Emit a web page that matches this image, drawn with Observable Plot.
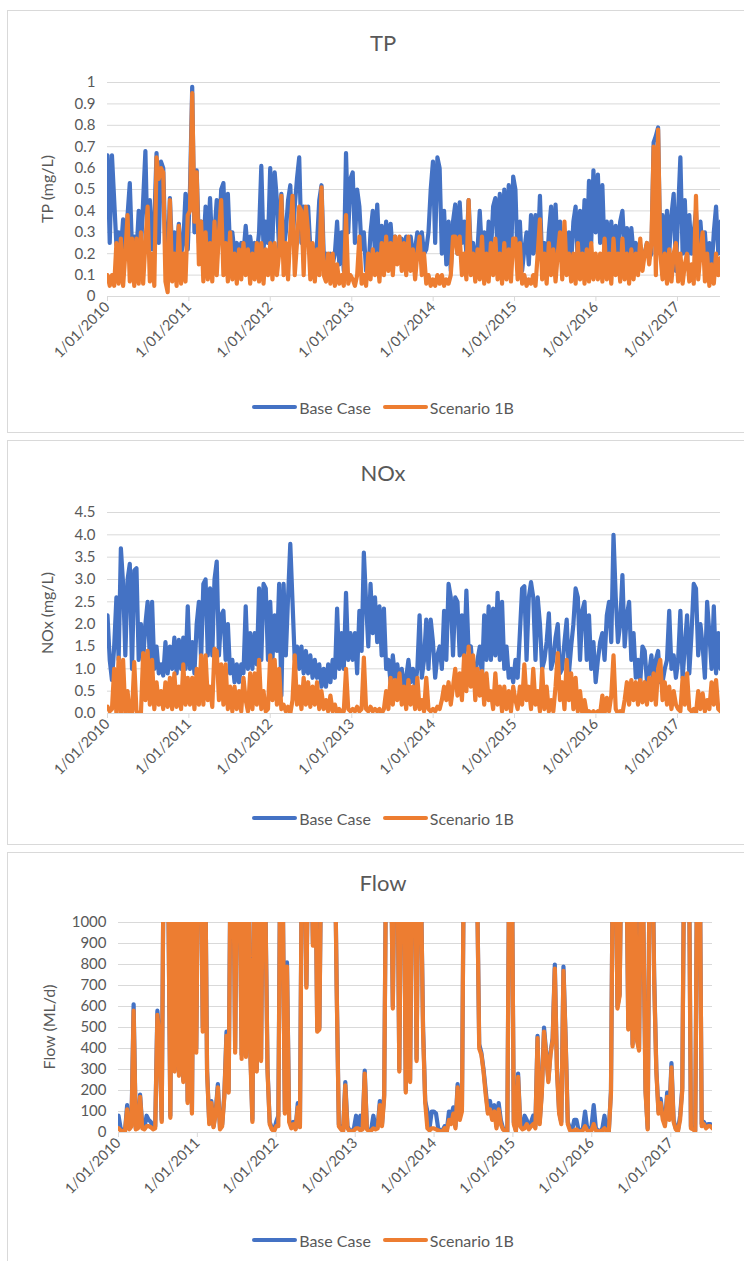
<!DOCTYPE html>
<html>
<head>
<meta charset="utf-8">
<script src="https://cdn.jsdelivr.net/npm/d3@7"></script>
<script src="https://cdn.jsdelivr.net/npm/@observablehq/plot@0.6"></script>
<style>
  html, body { margin: 0; padding: 0; background: #fff; overflow: hidden; }
  #root { position: relative; width: 744px; height: 1261px; overflow: hidden; font-family: Lato, "Open Sans", sans-serif; color: #595959; }
  .panel { position: absolute; border: 1px solid #d9d9d9; box-sizing: border-box; background: #fff; }
  .title { position: absolute; left: 0; width: 766px; text-align: center; font-size: 22px; line-height: 24px; color: #595959; }
  .ylab { position: absolute; font-size: 16px; white-space: nowrap; transform: translate(-50%, -50%) rotate(-90deg); color: #595959; }
  .legend { position: absolute; left: 0; width: 766px; display: flex; justify-content: center; align-items: center; font-size: 16px; color: #595959; }
  .sw { display: inline-block; width: 45px; height: 4px; border-radius: 2px; margin-right: 2px; }
  .item { display: flex; align-items: center; margin: 0 6px; }
  .chart { position: absolute; left: 0; }
</style>
</head>
<body>
<div id="root"></div>
<script>
// ---- data: one value every 10 days from 1 Jan 2010 ----
const stepDays = 10;
const startDate = new Date(2010, 0, 1);
const endDate = new Date(2017, 6, 13);
const tickYears = [2010, 2011, 2012, 2013, 2014, 2015, 2016, 2017];
const seriesNames = ["Base Case", "Scenario 1B"];
const seriesColors = ["#4472C4", "#ED7D31"];

const tpTicks = [0, 0.1, 0.2, 0.3, 0.4, 0.5, 0.6, 0.7, 0.8, 0.9, 1];
const noxTicks = [0, 0.5, 1, 1.5, 2, 2.5, 3, 3.5, 4, 4.5];
const flowTicks = [0, 100, 200, 300, 400, 500, 600, 700, 800, 900, 1000];

const tpBase = [
  0.66,0.25,0.66,0.45,0.24,0.3,0.22,0.36,0.2,0.38,0.53,0.22,0.28,0.2,0.4,0.22,0.45,0.68,0.22,0.45,0.22,0.35,0.67,0.25,0.63,0.6,0.22,0.2,0.46,0.2,0.3,0.2,0.34,0.2,0.25,0.48,0.22,
  0.5,0.98,0.3,0.59,0.25,0.35,0.22,0.42,0.25,0.46,0.22,0.3,0.45,0.25,0.5,0.53,0.25,0.48,0.22,0.3,0.2,0.25,0.2,0.25,0.2,0.33,0.2,0.28,0.2,0.25,0.2,0.3,0.61,0.22,0.35,0.25,
  0.6,0.25,0.58,0.45,0.22,0.48,0.22,0.3,0.45,0.52,0.25,0.42,0.55,0.65,0.25,0.42,0.25,0.42,0.22,0.23,0.2,0.25,0.45,0.52,0.2,0.2,0.15,0.2,0.15,0.2,0.35,0.15,0.3,0.12,0.67,0.3,0.55,
  0.58,0.25,0.5,0.42,0.22,0.3,0.12,0.11,0.3,0.4,0.2,0.43,0.2,0.33,0.2,0.35,0.2,0.34,0.2,0.28,0.2,0.22,0.27,0.2,0.28,0.2,0.28,0.2,0.22,0.3,0.2,0.3,0.2,0.22,0.3,0.5,
  0.63,0.25,0.65,0.6,0.2,0.4,0.15,0.35,0.12,0.35,0.43,0.2,0.44,0.25,0.35,0.2,0.45,0.2,0.25,0.18,0.22,0.4,0.2,0.3,0.15,0.35,0.2,0.42,0.46,0.2,0.48,0.15,0.5,0.2,0.52,0.15,0.56,
  0.5,0.15,0.35,0.12,0.22,0.3,0.15,0.38,0.2,0.38,0.2,0.47,0.15,0.25,0.12,0.3,0.42,0.15,0.43,0.2,0.35,0.15,0.25,0.15,0.3,0.15,0.35,0.42,0.15,0.4,0.2,0.45,0.2,0.54,0.25,0.59,0.3,
  0.57,0.25,0.52,0.2,0.35,0.2,0.35,0.2,0.33,0.2,0.35,0.4,0.2,0.32,0.2,0.32,0.2,0.25,0.18,0.24,0.18,0.2,0.25,0.18,0.2,0.72,0.75,0.79,0.2,0.38,0.15,0.4,0.2,0.38,0.48,0.12,
  0.4,0.65,0.2,0.45,0.15,0.38,0.2,0.3,0.4,0.15,0.35,0.2,0.3,0.15,0.25,0.12,0.3,0.42,0.2,0.35
];
const tpScen = [
  0.1,0.05,0.1,0.05,0.25,0.06,0.27,0.05,0.2,0.38,0.07,0.27,0.05,0.27,0.06,0.3,0.06,0.25,0.42,0.07,0.2,0.05,0.65,0.55,0.6,0.58,0.07,0.02,0.45,0.07,0.2,0.05,0.33,0.06,0.2,0.07,0.38,
  0.4,0.95,0.35,0.58,0.15,0.35,0.07,0.3,0.08,0.25,0.07,0.35,0.1,0.3,0.45,0.1,0.25,0.07,0.3,0.08,0.2,0.06,0.22,0.08,0.25,0.1,0.22,0.06,0.2,0.08,0.25,0.07,0.25,0.06,0.22,0.1,
  0.25,0.08,0.25,0.1,0.2,0.47,0.1,0.25,0.08,0.3,0.47,0.1,0.25,0.42,0.4,0.1,0.42,0.3,0.08,0.25,0.07,0.22,0.1,0.51,0.1,0.07,0.2,0.06,0.2,0.05,0.15,0.06,0.1,0.05,0.38,0.06,0.1,
  0.08,0.05,0.1,0.28,0.06,0.1,0.05,0.2,0.08,0.22,0.1,0.2,0.07,0.25,0.1,0.28,0.12,0.25,0.1,0.28,0.15,0.28,0.12,0.25,0.1,0.28,0.12,0.22,0.08,0.2,0.28,0.1,0.2,0.06,0.1,0.05,
  0.08,0.05,0.1,0.06,0.1,0.05,0.08,0.06,0.1,0.28,0.28,0.2,0.28,0.1,0.2,0.08,0.45,0.1,0.2,0.07,0.22,0.08,0.28,0.06,0.2,0.07,0.25,0.1,0.27,0.08,0.2,0.06,0.25,0.08,0.22,0.07,0.27,
  0.27,0.08,0.25,0.06,0.1,0.05,0.08,0.06,0.1,0.05,0.2,0.36,0.08,0.2,0.06,0.25,0.1,0.22,0.07,0.2,0.3,0.08,0.35,0.1,0.2,0.07,0.2,0.06,0.25,0.08,0.2,0.06,0.22,0.07,0.25,0.08,0.2,
  0.08,0.2,0.07,0.27,0.08,0.2,0.06,0.27,0.1,0.2,0.07,0.27,0.08,0.2,0.06,0.22,0.08,0.2,0.1,0.27,0.12,0.2,0.25,0.15,0.25,0.7,0.1,0.78,0.2,0.08,0.2,0.06,0.22,0.07,0.2,0.25,
  0.07,0.2,0.06,0.15,0.2,0.07,0.15,0.06,0.47,0.08,0.2,0.3,0.07,0.2,0.05,0.15,0.06,0.2,0.1,0.18
];
const noxBase = [
  2.2,1.2,0.75,1.5,2.6,1.2,3.7,2.9,1.3,3.0,3.35,1.0,3.2,3.25,1.2,2.0,1.2,2.0,2.5,1.2,2.5,1.0,1.5,0.9,1.1,0.85,1.6,0.9,1.5,1.0,1.7,0.9,1.65,1.0,1.7,1.0,2.4,
  1.0,1.6,0.9,2.0,2.5,1.2,2.9,3.0,1.3,2.8,1.3,3.0,3.4,1.3,2.2,2.3,1.2,2.0,0.9,1.2,0.7,1.1,0.7,1.1,0.9,2.4,1.0,1.8,1.0,1.8,1.1,2.8,1.2,2.9,2.8,1.2,
  2.5,1.2,2.2,1.4,2.9,0.4,2.9,1.3,2.6,3.8,2.5,1.2,1.5,1.0,1.5,0.9,1.4,0.9,1.3,0.8,1.2,0.8,1.1,0.6,1.0,0.6,1.1,0.7,1.2,0.8,2.35,1.0,1.8,1.0,2.7,1.2,1.8,
  1.2,1.8,0.9,2.3,1.4,3.6,2.5,1.5,2.9,1.8,2.6,1.6,2.4,1.3,2.35,1.0,1.2,0.7,1.3,0.8,1.1,0.7,1.0,0.6,0.8,1.2,0.7,1.0,0.6,1.0,2.2,0.8,1.2,2.1,1.0,2.1,
  1.6,0.8,1.3,1.5,1.0,2.3,1.2,2.9,2.6,1.3,2.6,2.5,1.3,2.2,1.2,2.75,1.4,1.5,0.9,0.9,1.2,1.5,0.8,2.2,1.2,2.4,1.2,2.35,1.3,2.7,1.2,2.5,1.0,1.5,0.8,1.0,0.7,
  1.2,0.8,1.8,2.8,2.85,1.2,2.6,2.94,2.6,1.2,2.6,2.0,1.0,1.2,1.6,2.24,1.0,1.2,1.7,2.0,0.9,1.0,1.6,2.1,0.9,1.5,2.0,2.8,2.6,1.2,2.3,2.5,1.2,2.2,1.0,1.6,0.7,
  1.2,1.6,1.8,1.2,2.2,2.5,1.6,4.0,2.6,1.6,2.0,3.1,1.5,2.2,2.5,1.2,1.8,0.8,1.2,0.7,1.5,1.4,0.7,0.9,1.3,0.7,1.2,1.4,0.7,0.7,1.0,1.2,2.3,1.0,1.3,0.8,
  1.2,2.3,0.8,1.5,2.2,0.9,1.8,2.9,2.8,1.3,2.0,1.5,0.8,2.5,1.8,1.0,2.4,0.9,1.8,1.0
];
const noxScen = [
  0.15,0.05,0.1,1.0,0.0,1.25,0.0,1.2,0.0,0.5,0.0,0.0,1.15,0.05,0.0,0.0,1.35,0.3,1.4,0.2,1.2,0.1,0.7,0.2,0.5,0.1,0.7,0.15,0.8,0.1,0.9,0.15,0.6,0.1,1.1,0.2,0.8,
  0.2,0.8,0.1,1.0,0.2,1.3,0.2,1.3,0.3,0.6,0.15,1.45,1.4,0.3,1.1,0.2,1.1,0.1,0.6,0.05,0.6,0.1,0.5,0.05,0.8,0.3,0.05,0.9,0.1,0.9,0.2,1.2,0.1,0.5,0.05,0.1,
  1.3,0.3,1.2,0.2,1.0,0.1,0.2,0.05,0.15,0.0,0.3,1.3,0.2,0.6,0.1,0.8,0.2,0.7,0.15,0.6,0.2,0.7,0.1,0.5,0.1,0.3,0.05,0.4,0.05,0.2,0.0,0.1,0.0,0.05,1.0,0.1,0.05,
  0.1,0.05,0.15,0.05,0.1,1.25,0.1,0.05,0.15,0.05,0.1,0.05,0.1,0.0,0.1,0.5,0.1,0.8,0.2,0.75,0.3,0.9,0.2,0.6,0.1,0.75,0.2,0.6,0.1,0.8,0.1,0.3,0.05,0.8,0.1,0.05,
  0.1,0.05,0.15,0.1,0.3,0.6,0.3,0.7,0.2,0.6,1.0,0.4,0.9,0.3,1.3,0.5,1.5,0.6,1.3,0.3,1.0,0.4,0.95,0.2,0.9,0.3,0.5,0.1,0.9,0.2,0.6,0.05,0.6,0.1,0.5,0.05,0.6,
  0.3,0.1,0.6,0.2,1.1,0.3,0.6,0.1,1.0,0.2,0.5,0.05,1.0,0.1,0.6,0.05,0.3,0.05,0.6,1.35,0.3,0.7,0.1,1.2,0.3,0.9,0.1,0.8,0.05,0.5,0.0,0.3,0.0,0.05,0.0,0.05,0.0,
  0.05,0.0,0.4,0.0,0.35,0.05,0.4,1.3,0.1,0.0,0.05,0.0,0.3,0.7,0.2,0.75,0.3,0.7,0.2,0.75,0.25,0.7,0.2,0.8,0.3,0.9,0.2,1.0,1.2,0.3,0.7,0.2,0.6,0.1,0.5,0.2,
  0.1,0.05,0.8,0.2,0.9,0.1,0.05,0.1,0.0,0.5,0.1,0.45,0.05,0.3,0.1,0.7,0.2,0.75,0.1,0.05
];
const flowBase = [
  80,20,10,5,130,20,40,610,20,30,180,30,20,80,60,50,20,30,580,450,60,1500,1500,1200,80,1500,300,1500,280,1500,250,1500,150,1500,100,1500,400,
  1500,1500,500,1500,300,50,150,30,100,230,20,40,180,480,200,1500,1500,400,1500,1300,370,1500,380,1500,400,60,1500,300,1500,350,1500,1100,300,50,20,10,
  50,80,1500,1200,100,810,60,30,50,20,140,30,1500,1500,700,1500,1500,900,1500,490,500,1500,1500,1200,1500,1500,1300,1500,700,40,20,10,240,30,10,5,20,
  80,30,80,20,295,20,10,15,80,20,30,150,40,180,1500,1500,1500,600,1500,1500,300,1500,1500,200,1500,250,1500,1500,350,1500,1200,500,150,100,20,100,
  100,90,20,10,10,30,10,100,80,120,30,230,80,120,1500,1500,1500,1500,1500,1500,1200,420,380,300,200,100,150,80,130,30,140,60,20,10,5,1500,1500,
  50,10,280,40,20,80,60,20,50,80,30,460,50,200,500,380,250,380,450,800,300,100,50,790,450,50,20,10,60,60,10,5,20,100,20,10,30,
  130,20,10,5,20,80,10,5,200,1500,1500,600,660,1500,1500,1500,500,1500,420,1500,450,400,1500,1000,200,20,1500,1500,740,300,100,160,80,40,190,80,
  330,60,20,10,80,210,1500,1500,1500,30,20,10,1500,1500,40,50,30,40,40,30
];
const flowScen = [
  20,10,5,5,110,15,30,580,15,20,170,20,15,30,30,25,15,20,560,430,50,1500,1500,1200,70,1500,290,1500,270,1500,240,1500,140,1500,90,1500,380,
  1500,1500,480,1500,290,40,140,25,90,215,15,30,170,460,190,1500,1500,380,1500,1300,350,1500,360,1500,380,50,1500,290,1500,340,1500,1100,290,40,15,5,
  30,30,1500,1200,90,790,50,20,40,15,120,25,1500,1500,690,1500,1500,890,1500,480,490,1500,1500,1200,1500,1500,1300,1500,690,30,15,5,225,20,5,5,10,
  20,20,10,15,280,15,5,10,20,15,20,130,30,165,1500,1500,1500,590,1500,1500,290,1500,1500,190,1500,240,1500,1500,340,1500,1200,480,140,20,10,20,
  20,15,10,5,5,20,5,60,40,90,20,215,60,100,1500,1500,1500,1500,1500,1500,1200,400,370,290,180,90,110,60,100,20,110,40,15,5,5,1500,1500,
  40,5,265,30,15,20,40,15,30,40,20,450,40,190,480,370,240,370,440,780,290,90,40,770,440,40,10,5,10,15,5,5,10,30,10,5,10,
  40,10,5,5,10,20,5,5,190,1500,1500,590,650,1500,1500,1500,490,1500,410,1500,440,390,1500,1000,190,15,1500,1500,720,290,90,140,60,30,170,60,
  310,50,15,5,60,200,1500,1500,1500,20,15,5,1500,1500,30,40,20,30,30,20
];

// ---- helpers ----
const toRows = (values) => values.map((v, i) => ({ date: d3.timeDay.offset(startDate, stepDays * i), value: v }));
const tickDates = tickYears.map(y => new Date(y, 0, 1));
const fmtDate = d => `${d.getDate()}/${String(d.getMonth() + 1).padStart(2, "0")}/${d.getFullYear()}`;
const FONT = 'Lato, "Open Sans", sans-serif';
const root = document.getElementById("root");

function addEl(cls, css, text) {
  const el = document.createElement("div");
  el.className = cls;
  Object.assign(el.style, css);
  if (text != null) el.textContent = text;
  root.appendChild(el);
  return el;
}

function panel(cfg) {
  addEl("panel", { left: "7px", top: cfg.boxTop + "px", width: "760px", height: cfg.boxHeight + "px" });
  addEl("title", { top: (cfg.titleY - 12) + "px" }, cfg.title);

  const mt = 20, mb = 80;
  const svg = Plot.plot({
    width: 744,
    height: (cfg.plotBottom - cfg.plotTop) + mt + mb,
    marginLeft: cfg.plotLeft,
    marginRight: 744 - cfg.plotRight,
    marginTop: mt,
    marginBottom: mb,
    style: { fontFamily: FONT, fontSize: "15px", color: "#595959", background: "transparent", overflow: "visible" },
    x: { type: "time", domain: [startDate, endDate] },
    y: { domain: [cfg.yTicks[0], cfg.yTicks[cfg.yTicks.length - 1]] },
    marks: [
      Plot.gridY(cfg.yTicks, { stroke: "#d9d9d9", strokeOpacity: 1, strokeWidth: 1 }),
      Plot.axisY(cfg.yTicks, { tickSize: 0, tickPadding: cfg.yPad, tickFormat: cfg.yFormat, label: null, fill: "#595959", fontSize: 15 }),
      Plot.axisX(tickDates, { tickSize: 5, stroke: "#d9d9d9", tickRotate: -45, tickPadding: 3, tickFormat: fmtDate, label: null, fill: "#595959", fontSize: 14.5 }),
      Plot.line(toRows(cfg.base), { x: "date", y: "value", stroke: seriesColors[0], strokeWidth: 4.2, strokeLinejoin: "round", strokeLinecap: "round", clip: true }),
      Plot.line(toRows(cfg.scen), { x: "date", y: "value", stroke: seriesColors[1], strokeWidth: 4.2, strokeLinejoin: "round", strokeLinecap: "round", clip: true })
    ]
  });
  const holder = addEl("chart", { top: (cfg.plotTop - mt) + "px" });
  holder.appendChild(svg);

  addEl("ylab", { left: cfg.yLabX + "px", top: ((cfg.plotTop + cfg.plotBottom) / 2) + "px" }, cfg.yLabel);

  const leg = addEl("legend", { top: (cfg.legendY - 11) + "px", height: "22px" });
  seriesNames.forEach((name, k) => {
    const it = document.createElement("div");
    it.className = "item";
    const sw = document.createElement("span");
    sw.className = "sw";
    sw.style.background = seriesColors[k];
    const tx = document.createElement("span");
    tx.textContent = name;
    it.appendChild(sw); it.appendChild(tx);
    leg.appendChild(it);
  });
}

panel({ title: "TP", yLabel: "TP (mg/L)", base: tpBase, scen: tpScen, yTicks: tpTicks, yFormat: d => String(d), yPad: 12,
  boxTop: 10, boxHeight: 423, titleY: 43, plotTop: 82, plotBottom: 296, plotLeft: 107, plotRight: 720, yLabX: 46, legendY: 407 });
panel({ title: "NOx", yLabel: "NOx (mg/L)", base: noxBase, scen: noxScen, yTicks: noxTicks, yFormat: d3.format(".1f"), yPad: 12,
  boxTop: 440, boxHeight: 405, titleY: 473, plotTop: 512, plotBottom: 713, plotLeft: 107, plotRight: 720, yLabX: 46, legendY: 818 });
panel({ title: "Flow", yLabel: "Flow (ML/d)", base: flowBase, scen: flowScen, yTicks: flowTicks, yFormat: d => String(d), yPad: 12,
  boxTop: 852, boxHeight: 430, titleY: 883, plotTop: 922, plotBottom: 1132, plotLeft: 118, plotRight: 712, yLabX: 48, legendY: 1240 });
</script>
</body>
</html>
